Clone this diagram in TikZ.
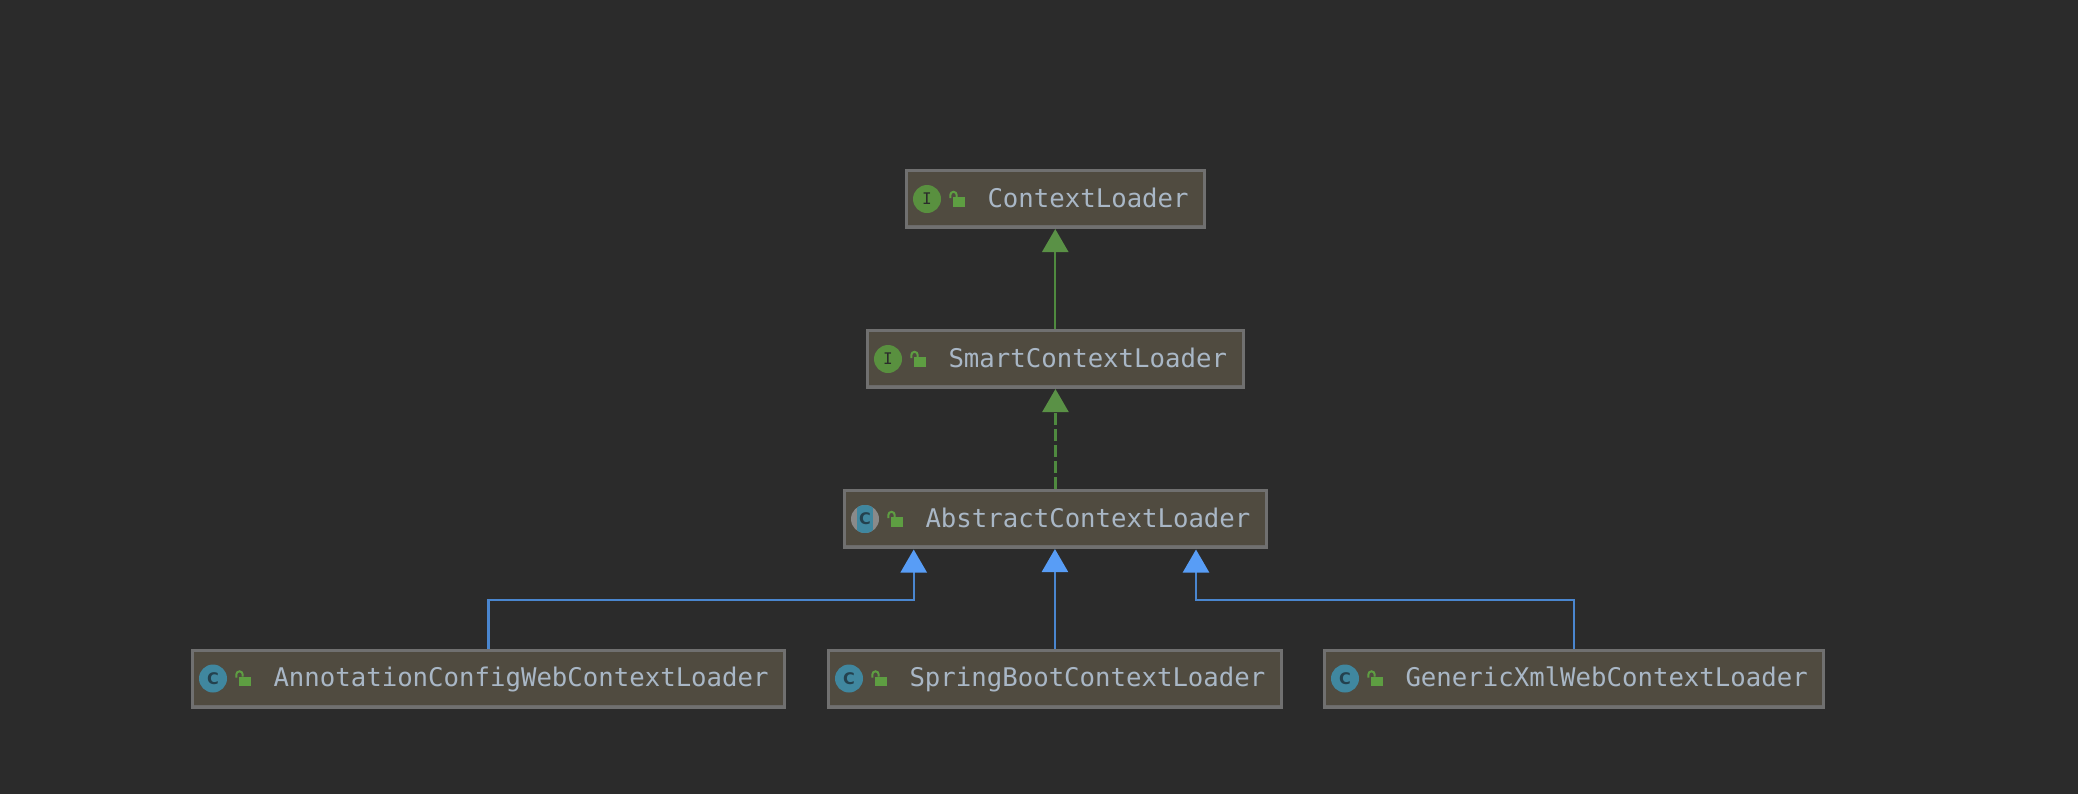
\documentclass[tikz,border=0pt]{standalone}
\usepackage{fontspec}
\setmonofont{DejaVu Sans Mono}
\setsansfont{DejaVu Sans}
\usetikzlibrary{arrows.meta}

\definecolor{bgdark}{HTML}{2B2B2B}
\definecolor{boxfill}{HTML}{504B40}
\definecolor{boxline}{HTML}{707070}
\definecolor{nametext}{HTML}{A9B7C6}
\definecolor{ifgreen}{HTML}{59903F}
\definecolor{lockgreen}{HTML}{5E9E42}
\definecolor{linegreen}{HTML}{4F8A3F}
\definecolor{tipgreen}{HTML}{5A9146}
\definecolor{classteal}{HTML}{40879F}
\definecolor{letterteal}{HTML}{24414E}
\definecolor{absgray}{HTML}{8A8A8A}
\definecolor{lineblue}{HTML}{4A86CF}
\definecolor{tipblue}{HTML}{589DF6}

\tikzset{
	classbox/.style = {draw = boxline, fill = boxfill, line width = 1.5pt, anchor = west, inner xsep = 0, inner ysep = 0, minimum height = 28.5pt, text height = 9.5pt, text depth = 1.5pt, text = nametext, font = \ttfamily\fontsize{12.85}{15}\selectfont, path picture = {\draw[boxline!85!boxfill, line width = 0.5pt] ([yshift = 1pt]path picture bounding box.south west) -- ([yshift = 1pt]path picture bounding box.south east);}},
	kindicon/.style = {circle, inner sep = 0, minimum size = 14pt},
	ifaceicon/.style = {kindicon, fill = ifgreen, text = bgdark, font = \ttfamily\fontsize{8}{9}\selectfont},
	classicon/.style = {kindicon, fill = classteal, text = letterteal, font = \sffamily\bfseries\fontsize{8}{9}\selectfont},
	lockicon/.pic = {
		\fill[lockgreen] (-5.7,-1.7) rectangle (6,7.7);
		\draw[lockgreen, line width = 1pt] (-8.7,-1) -- (-8.7,-4) arc (180:360:3.2) -- (-2.3,-2);
	},
	impl/.style = {linegreen, line width = 1.2pt, -{Triangle[length = 11.5pt, width = 13pt, color = tipgreen]}},
	extend/.style = {lineblue, line width = 1.2pt, -{Triangle[length = 11.5pt, width = 13pt, color = tipblue]}}
}
\newcommand{\classname}[1]{\hspace*{40.5pt}#1\hspace*{8pt}}

\begin{document}
\begin{tikzpicture}[x = 0.5pt, y = -0.5pt]
	\fill[bgdark] (0,0) rectangle (2078,794); % background
	\useasboundingbox (0,0) rectangle (2078,794);

	% class boxes
	\node[classbox] (context) at (905,199) {\classname{ContextLoader}};
	\node[classbox] (smart) at (866,359) {\classname{SmartContextLoader}};
	\node[classbox] (abstract) at (843,519) {\classname{AbstractContextLoader}};
	\node[classbox] (annot) at (191,678.5) {\classname{AnnotationConfigWebContextLoader}};
	\node[classbox] (spring) at (827,678.5) {\classname{SpringBootContextLoader}};
	\node[classbox] (generic) at (1323,678.5) {\classname{GenericXmlWebContextLoader}};

	% kind icons
	\node[ifaceicon] (contexticon) at (927,199) {I};
	\node[ifaceicon] (smarticon) at (888,359) {I};
	\node[classicon, fill = absgray, path picture = {\fill[classteal] (path picture bounding box.center) ++(-8.3,-14) rectangle ++(16.6,28);}] (abstracticon) at (865,519) {C};
	\node[classicon] (annoticon) at (213,678.5) {C};
	\node[classicon] (springicon) at (849,678.5) {C};
	\node[classicon] (genericicon) at (1345,678.5) {C};

	% locks
	\pic at (959,199) {lockicon};
	\pic at (920,359) {lockicon};
	\pic at (897,519) {lockicon};
	\pic at (245,678.5) {lockicon};
	\pic at (881,678.5) {lockicon};
	\pic at (1377,678.5) {lockicon};

	% free ends of the bent arrows
	\coordinate (absleft) at (913.7,549.5);
	\coordinate (absright) at (1196,549.5);
	\coordinate (elbowleft) at (913.7,600);
	\coordinate (elbowright) at (1196,600);

	\draw[impl] (smart.north) -- (smart.north |- context.south);
	\draw[impl, dash pattern = on 6pt off 2pt] (abstract.north) -- (abstract.north |- smart.south);
	\draw[extend] (spring.north) -- (spring.north |- abstract.south);
	\draw[extend] (annot.north) |- (elbowleft) -- (absleft);
	\draw[extend] (generic.north) |- (elbowright) -- (absright);
\end{tikzpicture}
\end{document}
